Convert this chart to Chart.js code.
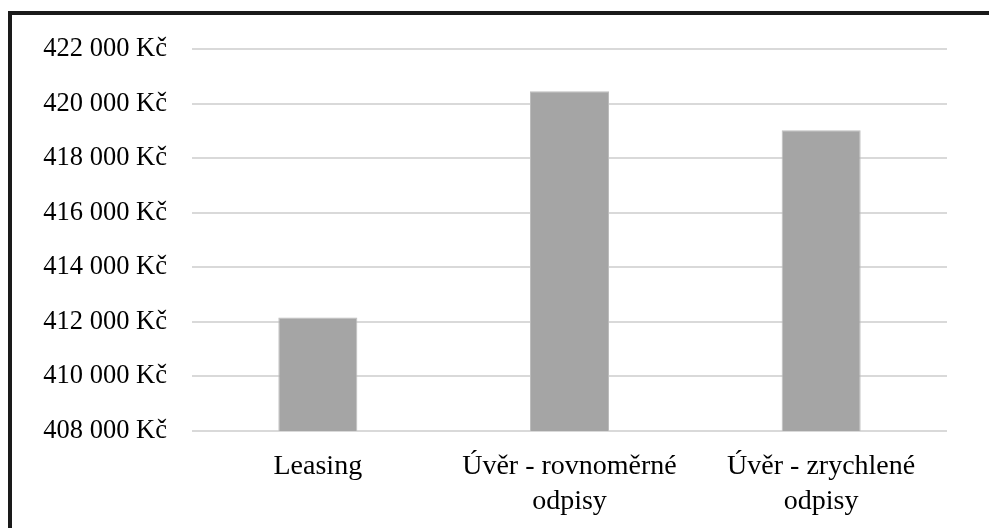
<!DOCTYPE html>
<html>
<head>
<meta charset="utf-8">
<script src="https://cdn.jsdelivr.net/npm/chart.js@4/dist/chart.umd.min.js"></script>
<style>
  html, body { margin: 0; padding: 0; background: #fff; }
  #wrap { position: relative; width: 989px; height: 528px; overflow: hidden; }
  #frame { position: absolute; left: 8px; top: 11px; width: 1200px; height: 800px;
           border-top: 4px solid #1a1a1a; border-left: 4px solid #1a1a1a; box-sizing: border-box; }
  canvas { position: absolute; left: 0; top: 0; }
</style>
</head>
<body>
<div id="wrap">
  <div id="frame"></div>
  <canvas id="c" width="989" height="528"></canvas>
</div>
<script>
// Total cost of each financing option (CZK)
const categories = ['Leasing', ['Úvěr - rovnoměrné', 'odpisy'], ['Úvěr - zrychlené', 'odpisy']];
const costs = [412160, 420450, 419025];
const yMin = 408000, yMax = 422000, yStep = 2000;

const fmtKc = v => String(v).replace(/\B(?=(\d{3})+(?!\d))/g, ' ') + ' Kč';
const family = '"Liberation Serif", "Times New Roman", serif';

new Chart(document.getElementById('c'), {
  type: 'bar',
  data: {
    labels: categories,
    datasets: [{
      data: costs,
      backgroundColor: '#a5a5a5',
      borderColor: '#bdbdbd',
      borderWidth: 1,
      barPercentage: 1,
      categoryPercentage: 0.314
    }]
  },
  options: {
    responsive: false,
    animation: false,
    devicePixelRatio: 1,
    layout: { padding: { left: 0, right: 42, top: 49, bottom: 0 } },
    plugins: { legend: { display: false }, tooltip: { enabled: false } },
    scales: {
      x: {
        grid: { display: false },
        border: { display: false },
        ticks: { color: '#000', font: { family, size: 28, lineHeight: 1.25 }, padding: 10, maxRotation: 0 },
        afterFit: s => { s.height = 97; }
      },
      y: {
        min: yMin, max: yMax,
        grid: { color: '#d9d9d9', lineWidth: 2, drawTicks: false },
        border: { display: false },
        ticks: { stepSize: yStep, color: '#000', font: { family, size: 26.5 }, padding: 25, callback: v => fmtKc(v) },
        afterFit: s => { s.width = 192; }
      }
    }
  }
});
</script>
</body>
</html>
